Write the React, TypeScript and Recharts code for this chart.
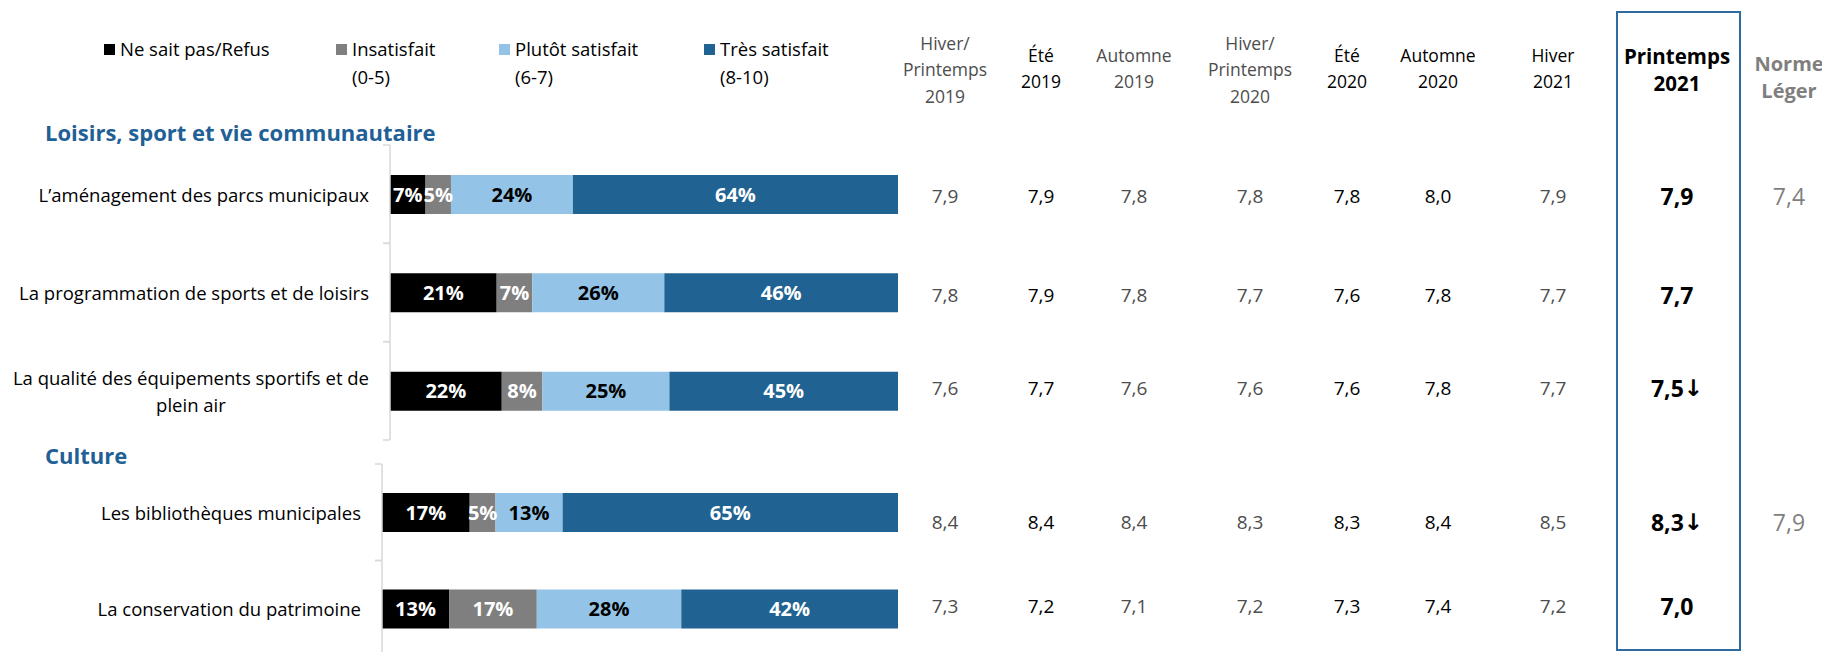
import React from "react";
import { BarChart, Bar, XAxis, YAxis, LabelList } from "recharts";

// Baromètre de satisfaction: loisirs et culture

const loisirsItems = [
  "L’aménagement des parcs municipaux",
  "La programmation de sports et de loisirs",
  "La qualité des équipements sportifs et de plein air",
];
const cultureItems = ["Les bibliothèques municipales", "La conservation du patrimoine"];

// % (loisirs puis culture)
const nspValues = [7, 21, 22, 17, 13];
const insatValues = [5, 7, 8, 5, 17];
const plutotValues = [24, 26, 25, 13, 28];
const tresValues = [64, 46, 45, 65, 42];

// moyennes /10 par vague
const periodLabels = [
  "Hiver/\nPrintemps\n2019",
  "Été\n2019",
  "Automne\n2019",
  "Hiver/\nPrintemps\n2020",
  "Été\n2020",
  "Automne\n2020",
  "Hiver\n2021",
  "Printemps\n2021",
  "Norme\nLéger",
];
const hp2019 = [7.9, 7.8, 7.6, 8.4, 7.3];
const ete2019 = [7.9, 7.9, 7.7, 8.4, 7.2];
const aut2019 = [7.8, 7.8, 7.6, 8.4, 7.1];
const hp2020 = [7.8, 7.7, 7.6, 8.3, 7.2];
const ete2020 = [7.8, 7.6, 7.6, 8.3, 7.3];
const aut2020 = [8.0, 7.8, 7.8, 8.4, 7.4];
const hiv2021 = [7.9, 7.7, 7.7, 8.5, 7.2];
const prin2021 = [7.9, 7.7, 7.5, 8.3, 7.0];
const normeLeger = [7.4, null, null, 7.9, null];
const baisse = [false, false, true, true, false];

const FONT = "'Open Sans', sans-serif";
const W = 1822;
const H = 652;
const PLOT_RIGHT = 898;
const GRAY = "#4d4d4d";
const LIGHT = "#7f7f7f";

const series = [
  { key: "nsp", name: "Ne sait pas/Refus", sub: "", color: "#000000", text: "#ffffff", legendX: 107 },
  { key: "insat", name: "Insatisfait", sub: "(0-5)", color: "#7f7f7f", text: "#ffffff", legendX: 339 },
  { key: "plutot", name: "Plutôt satisfait", sub: "(6-7)", color: "#93c4e7", text: "#000000", legendX: 502 },
  { key: "tres", name: "Très satisfait", sub: "(8-10)", color: "#206392", text: "#ffffff", legendX: 707 },
];

const columns = [
  { values: hp2019, x: 945, color: GRAY, weight: 400, size: 19, hColor: GRAY, hWeight: 400, hSize: 17.5, hMid: 69.5 },
  { values: ete2019, x: 1041, color: "#000", weight: 400, size: 19, hColor: "#000", hWeight: 400, hSize: 17.5, hMid: 68 },
  { values: aut2019, x: 1134, color: GRAY, weight: 400, size: 19, hColor: GRAY, hWeight: 400, hSize: 17.5, hMid: 68 },
  { values: hp2020, x: 1250, color: GRAY, weight: 400, size: 19, hColor: GRAY, hWeight: 400, hSize: 17.5, hMid: 69.5 },
  { values: ete2020, x: 1347, color: "#000", weight: 400, size: 19, hColor: "#000", hWeight: 400, hSize: 17.5, hMid: 68 },
  { values: aut2020, x: 1438, color: "#000", weight: 400, size: 19, hColor: "#000", hWeight: 400, hSize: 17.5, hMid: 68 },
  { values: hiv2021, x: 1553, color: GRAY, weight: 400, size: 19, hColor: "#000", hWeight: 400, hSize: 17.5, hMid: 68 },
  { values: prin2021, x: 1677, color: "#000", weight: 700, size: 23, hColor: "#000", hWeight: 700, hSize: 20.5, hMid: 69.5 },
  { values: normeLeger, x: 1789, color: LIGHT, weight: 400, size: 23, hColor: LIGHT, hWeight: 700, hSize: 20, hMid: 77.5 },
];
// petit décalage vertical des lignes du tableau par rapport aux barres
const rowShift = [2, 2, -3, 10, -3];

const rows = [...loisirsItems, ...cultureItems].map((name, i) => ({
  name,
  idx: i,
  nsp: nspValues[i],
  insat: insatValues[i],
  plutot: plutotValues[i],
  tres: tresValues[i],
}));

const fmt = (v: number) => v.toFixed(1).replace(".", ",");

function wrap(text: string, max: number) {
  const out: string[] = [];
  let cur = "";
  for (const w of text.split(" ")) {
    const next = cur ? cur + " " + w : w;
    if (next.length > max && cur) {
      out.push(cur);
      cur = w;
    } else cur = next;
  }
  out.push(cur);
  return out;
}

function makeCategoryTick(band: number) {
  return (props: any) => {
    const { x, y, payload } = props;
    const lines = wrap(payload.value, 41);
    const half = band / 2;
    return (
      <g>
        <line x1={x - 7} x2={x} y1={y - half} y2={y - half} stroke="#d9d9d9" strokeWidth={1.5} />
        <line x1={x - 7} x2={x} y1={y + half} y2={y + half} stroke="#d9d9d9" strokeWidth={1.5} />
        <foreignObject x={x - 21 - 420} y={y - 40} width={420} height={80}>
          <div
            style={{
              width: 420,
              height: 80,
              display: "flex",
              justifyContent: "flex-end",
              alignItems: "center",
              fontFamily: FONT,
              fontSize: 18.5,
              lineHeight: "27px",
              color: "#000",
            }}
          >
            <div style={{ textAlign: "center", whiteSpace: "nowrap" }}>
              {lines.map((l, k) => (
                <div key={k}>{l}</div>
              ))}
            </div>
          </div>
        </foreignObject>
      </g>
    );
  };
}

function TableTick(props: any) {
  const { y, payload, data } = props;
  const row = data.find((r: any) => r.name === payload.value);
  if (!row) return null;
  const i = row.idx;
  return (
    <g>
      {columns.map((c, k) => {
        const v = c.values[i];
        if (v == null) return null;
        const arrow = k === 7 && baisse[i];
        return (
          <text
            key={k}
            x={c.x}
            y={y + rowShift[i]}
            textAnchor="middle"
            dominantBaseline="central"
            fontFamily={FONT}
            fontSize={c.size}
            fontWeight={c.weight}
            fill={c.color}
          >
            {fmt(v)}
            {arrow && (
              <tspan fontFamily="'DejaVu Sans', sans-serif" fontWeight={700} fontSize={c.size}>
                ↓
              </tspan>
            )}
          </text>
        );
      })}
    </g>
  );
}

function Block({ data, top, plotH, axisX }: { data: any[]; top: number; plotH: number; axisX: number }) {
  const band = plotH / data.length;
  return (
    <div style={{ position: "absolute", left: 0, top: top - 5 }}>
      <BarChart
        width={W}
        height={plotH + 10}
        data={data}
        layout="vertical"
        margin={{ top: 5, right: 0, bottom: 5, left: 0 }}
        barSize={39}
      >
        <XAxis type="number" domain={[0, 100]} hide />
        <YAxis
          yAxisId="cat"
          type="category"
          dataKey="name"
          width={axisX}
          interval={0}
          tickSize={0}
          tickMargin={0}
          tickLine={false}
          axisLine={{ stroke: "#d9d9d9", strokeWidth: 1.5 }}
          tick={makeCategoryTick(band)}
        />
        <YAxis
          yAxisId="tbl"
          orientation="right"
          type="category"
          dataKey="name"
          width={W - PLOT_RIGHT}
          interval={0}
          tickSize={0}
          tickMargin={0}
          tickLine={false}
          axisLine={false}
          tick={<TableTick data={data} />}
        />
        {series.map((s) => (
          <Bar key={s.key} dataKey={s.key} name={s.name} stackId="a" yAxisId="cat" fill={s.color} isAnimationActive={false}>
            <LabelList
              dataKey={s.key}
              position="center"
              formatter={(v: any) => `${v}%`}
              fill={s.text}
              fontSize={20}
              fontWeight={700}
              fontFamily={FONT}
            />
          </Bar>
        ))}
      </BarChart>
    </div>
  );
}

export default function App() {
  return (
    <div
      style={{
        position: "absolute",
        left: 0,
        top: 0,
        width: W,
        height: H,
        overflow: "hidden",
        background: "#fff",
        fontFamily: FONT,
      }}
    >
      {/* légende */}
      {series.map((s) => (
        <div key={s.key}>
          <div style={{ position: "absolute", left: s.legendX - 3, top: 43.5, width: 11, height: 11, background: s.color }} />
          <div
            style={{
              position: "absolute",
              left: s.legendX + 13,
              top: 35,
              fontSize: 18.5,
              lineHeight: "28px",
              color: "#000",
              whiteSpace: "nowrap",
            }}
          >
            <div>{s.name}</div>
            {s.sub && <div>{s.sub}</div>}
          </div>
        </div>
      ))}

      {/* en-têtes des vagues */}
      {columns.map((c, k) => {
        const lines = periodLabels[k].split("\n");
        const lh = 26.5;
        return (
          <div
            key={k}
            style={{
              position: "absolute",
              left: c.x - 80,
              width: 160,
              top: c.hMid - (lines.length * lh) / 2,
              textAlign: "center",
              fontSize: c.hSize,
              fontWeight: c.hWeight,
              color: c.hColor,
              lineHeight: `${lh}px`,
            }}
          >
            {lines.map((l, j) => (
              <div key={j}>{l}</div>
            ))}
          </div>
        );
      })}

      {/* cadre Printemps 2021 */}
      <div
        style={{
          position: "absolute",
          left: 1616,
          top: 11,
          width: 125,
          height: 640,
          border: "2.5px solid #2f6b9e",
          boxSizing: "border-box",
        }}
      />

      <div style={{ position: "absolute", left: 45, top: 117, fontSize: 22, fontWeight: 700, color: "#1f6096", lineHeight: "30px" }}>
        Loisirs, sport et vie communautaire
      </div>
      <div style={{ position: "absolute", left: 45, top: 440, fontSize: 22, fontWeight: 700, color: "#1f6096", lineHeight: "30px" }}>
        Culture
      </div>

      <Block data={rows.slice(0, 3)} top={145} plotH={295} axisX={390} />
      <Block data={rows.slice(3)} top={464} plotH={193} axisX={382} />
    </div>
  );
}
